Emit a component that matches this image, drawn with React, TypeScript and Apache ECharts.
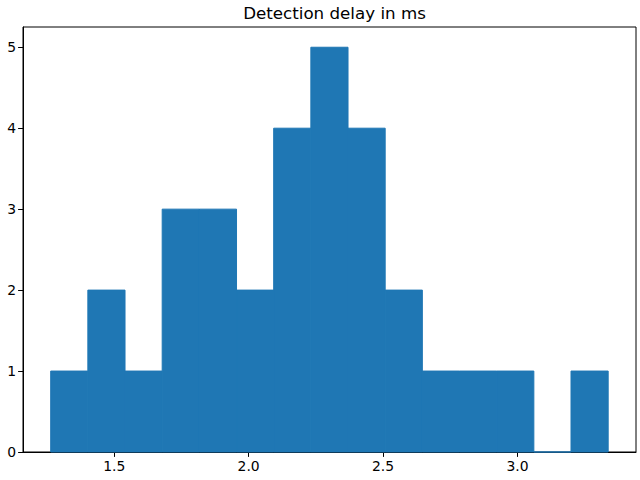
import React, { useEffect, useRef } from "react";
import * as echarts from "echarts";

const binStart = 1.2636;
const binWidth = 0.13826;
const counts = [1, 2, 1, 3, 3, 2, 4, 5, 4, 2, 1, 1, 1, 0, 1];
const xTicks = [1.5, 2.0, 2.5, 3.0];
const yTicks = [0, 1, 2, 3, 4, 5];
const titleText = "Detection delay in ms";

export default function App() {
  const ref = useRef<HTMLDivElement>(null);
  useEffect(() => {
    if (!ref.current) return;
    const chart = echarts.init(ref.current, null, { renderer: "svg" });
    const data = counts.map((c, i) => [binStart + i * binWidth, binStart + (i + 1) * binWidth, c]);
    const font = "DejaVu Sans";
    chart.setOption({
      animation: false,
      title: {
        text: titleText,
        left: 329.5,
        textAlign: "center",
        top: -1,
        textStyle: { fontFamily: font, fontSize: 16.7, fontWeight: "normal", color: "#000" },
      },
      grid: {
        left: 23,
        right: 4,
        top: 27,
        bottom: 28,
        show: true,
        borderColor: "#000",
        borderWidth: 1,
        backgroundColor: "#fff",
      },
      xAxis: {
        type: "value",
        min: 1.1606,
        max: 3.441,
        splitLine: { show: false },
        axisLine: { show: true, onZero: false, lineStyle: { color: "#000", width: 1 } },
        axisTick: { show: true, length: 4.9, customValues: xTicks, lineStyle: { color: "#000" } },
        axisLabel: {
          customValues: xTicks,
          formatter: (v: number) => v.toFixed(1),
          fontFamily: font,
          fontSize: 13.9,
          color: "#000",
          margin: 7,
        },
      },
      yAxis: {
        type: "value",
        min: 0,
        max: 5.25,
        splitLine: { show: false },
        axisLine: { show: true, lineStyle: { color: "#000", width: 1 } },
        axisTick: { show: true, length: 4.9, customValues: yTicks, lineStyle: { color: "#000" } },
        axisLabel: {
          customValues: yTicks,
          fontFamily: font,
          fontSize: 13.9,
          color: "#000",
          margin: 7,
        },
      },
      series: [
        {
          type: "custom",
          data,
          encode: { x: [0, 1], y: 2 },
          renderItem: (params: any, api: any) => {
            const x0 = api.value(0);
            const x1 = api.value(1);
            const h = api.value(2);
            const p0 = api.coord([x0, 0]);
            const p1 = api.coord([x1, h]);
            return {
              type: "rect",
              shape: { x: p0[0], y: p1[1], width: p1[0] - p0[0], height: p0[1] - p1[1] },
              style: { fill: "#1f77b4", stroke: "#1f77b4", lineWidth: 1 },
            };
          },
          z: 1,
        },
      ],
    });
    return () => chart.dispose();
  }, []);
  return <div ref={ref} style={{ width: 640, height: 480, position: "absolute", left: 0, top: 0 }} />;
}
